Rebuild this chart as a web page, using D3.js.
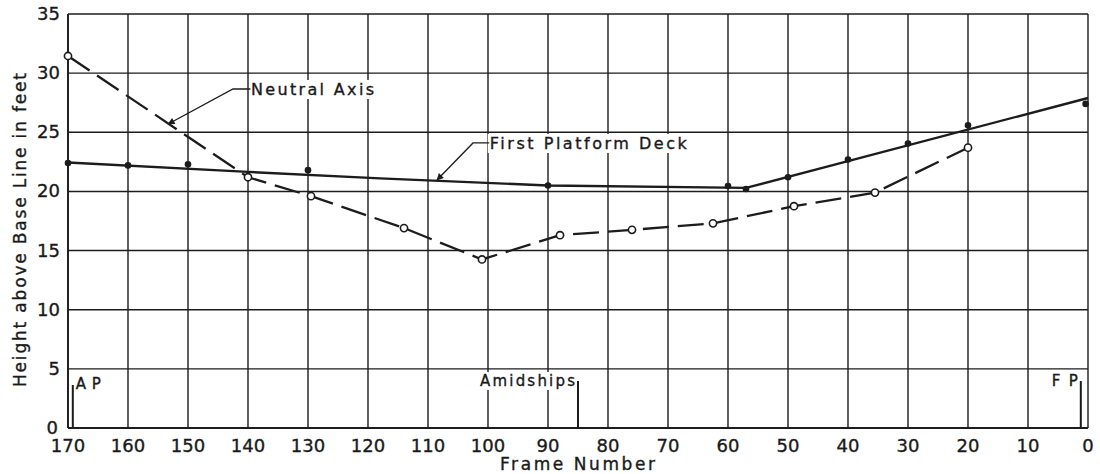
<!DOCTYPE html>
<html>
<head>
<meta charset="utf-8">
<script src="https://cdn.jsdelivr.net/npm/d3@7"></script>
<style>
  html, body { margin: 0; padding: 0; background: #fff; }
  svg text { font-family: "DejaVu Sans", sans-serif; fill: #1a1a1a; stroke: #1a1a1a; stroke-width: 0.35px; }
</style>
</head>
<body>
<div id="chart"></div>
<script>
// frame numbers run from aft (170) to forward (0)
const frameTicks = [170, 160, 150, 140, 130, 120, 110, 100, 90, 80, 70, 60, 50, 40, 30, 20, 10, 0];
const heightTicks = [0, 5, 10, 15, 20, 25, 30, 35];

// first platform deck: faired line + plotted points
const deckLineFrames = [170, 140, 118, 90, 57, 0];
const deckLineHeights = [22.45, 21.65, 21.1, 20.5, 20.3, 27.9];
const deckPointFrames = [170, 160, 150, 130, 90, 60, 57, 50, 40, 30, 20, 0.4];
const deckPointHeights = [22.4, 22.2, 22.3, 21.8, 20.5, 20.45, 20.2, 21.2, 22.7, 24.05, 25.6, 27.4];

// neutral axis points
const neutralFrames = [170, 140, 129.5, 114, 101, 88, 76, 62.5, 49, 35.5, 20];
const neutralHeights = [31.45, 21.2, 19.6, 16.9, 14.25, 16.3, 16.75, 17.3, 18.75, 19.9, 23.7];

// stations along the base line
const stationNames = ['AP', 'Amidships', 'FP'];
const stationFrames = [169.2, 85, 1.2];

const width = 1100, height = 474;
const svg = d3.select('#chart').append('svg')
  .attr('width', width)
  .attr('height', height);

const x = d3.scaleLinear().domain([170, 0]).range([68, 1088]);
const y = d3.scaleLinear().domain([0, 35]).range([428, 14]);
const ink = '#1c1c1c';

// grid
const grid = svg.append('g').attr('stroke', ink).attr('stroke-width', 1.4);
grid.selectAll('line.v').data(frameTicks).join('line')
  .attr('class', 'v')
  .attr('x1', d => x(d)).attr('x2', d => x(d))
  .attr('y1', y(0)).attr('y2', y(35));
grid.selectAll('line.h').data(heightTicks).join('line')
  .attr('class', 'h')
  .attr('x1', x(170)).attr('x2', x(0))
  .attr('y1', d => y(d)).attr('y2', d => y(d));
// heavier base line and left edge
svg.append('line').attr('x1', x(170)).attr('x2', x(0)).attr('y1', y(0)).attr('y2', y(0))
  .attr('stroke', ink).attr('stroke-width', 2);
svg.append('line').attr('x1', x(170)).attr('x2', x(170)).attr('y1', y(0)).attr('y2', y(35))
  .attr('stroke', ink).attr('stroke-width', 1.8);

// tick labels
svg.append('g').selectAll('text').data(frameTicks).join('text')
  .attr('x', d => x(d)).attr('y', 452)
  .attr('text-anchor', 'middle')
  .style('font-size', '18px')
  .text(d => d);
svg.append('g').selectAll('text').data(heightTicks).join('text')
  .attr('x', d => d === 0 ? 58 : 60).attr('y', d => y(d) + 6)
  .attr('text-anchor', 'end')
  .style('font-size', '18px')
  .text(d => d);

// axis titles
svg.append('text')
  .attr('x', 500).attr('y', 470)
  .attr('textLength', 155).attr('lengthAdjust', 'spacing')
  .style('font-size', '17px')
  .text('Frame Number');
svg.append('text')
  .attr('transform', 'translate(26,387) rotate(-90)')
  .attr('textLength', 314).attr('lengthAdjust', 'spacing')
  .style('font-size', '17px')
  .text('Height above Base Line in feet');

// labels with a white box that breaks the grid behind them
function boxedLabel(tx, ty, str, len, size, anchor) {
  const g = svg.append('g');
  const rect = g.append('rect').attr('fill', '#fff');
  const t = g.append('text')
    .attr('x', tx).attr('y', ty)
    .attr('text-anchor', anchor || 'start')
    .attr('textLength', len).attr('lengthAdjust', 'spacing')
    .style('font-size', size + 'px')
    .text(str);
  const b = t.node().getBBox();
  rect.attr('x', b.x - 2).attr('y', b.y).attr('width', b.width + 4).attr('height', b.height);
  return g;
}

// stations
stationNames.forEach((name, i) => {
  const sx = x(stationFrames[i]);
  const top = name === 'AP' ? 385 : 381;
  if (name === 'AP') boxedLabel(sx + 3, 389, name, 25, 15, 'start');
  else boxedLabel(sx - 3, 386, name, name === 'FP' ? 26 : 95, 15, 'end');
  svg.append('line')
    .attr('x1', sx).attr('x2', sx).attr('y1', top).attr('y2', y(0))
    .attr('stroke', ink).attr('stroke-width', 2);
});

// annotations with leader arrows
const defs = svg.append('defs');
defs.append('marker')
  .attr('id', 'arrow')
  .attr('viewBox', '0 0 10 10')
  .attr('refX', 9).attr('refY', 5)
  .attr('markerWidth', 11).attr('markerHeight', 7)
  .attr('markerUnits', 'userSpaceOnUse')
  .attr('orient', 'auto')
  .append('path').attr('d', 'M0,0 L10,5 L0,10 z').attr('fill', ink);

boxedLabel(x(139.5), y(28.66) + 6, 'Neutral Axis', 123, 16);
boxedLabel(x(99.7), y(24.1) + 6, 'First Platform Deck', 197, 16);

const leaders = [
  [[139.6, 28.66], [142.5, 28.66], [153.3, 25.7]],
  [[99.8, 24.1], [102.5, 24.1], [108.5, 20.96]]
];
const leaderLine = d3.line().x(d => x(d[0])).y(d => y(d[1]));
svg.append('g').selectAll('path').data(leaders).join('path')
  .attr('d', leaderLine)
  .attr('fill', 'none')
  .attr('stroke', ink)
  .attr('stroke-width', 1.3)
  .attr('marker-end', 'url(#arrow)');

// data lines
const line = d3.line().x(d => x(d[0])).y(d => y(d[1]));
svg.append('path')
  .datum(deckLineFrames.map((f, i) => [f, deckLineHeights[i]]))
  .attr('d', line)
  .attr('fill', 'none')
  .attr('stroke', ink)
  .attr('stroke-width', 2.4);

svg.append('path')
  .datum(neutralFrames.map((f, i) => [f, neutralHeights[i]]))
  .attr('d', line)
  .attr('fill', 'none')
  .attr('stroke', ink)
  .attr('stroke-width', 2.3)
  .attr('stroke-dasharray', '26,9');

// points
svg.append('g').selectAll('circle')
  .data(deckPointFrames.map((f, i) => [f, deckPointHeights[i]]))
  .join('circle')
  .attr('cx', d => x(d[0])).attr('cy', d => y(d[1]))
  .attr('r', 3.3)
  .attr('fill', ink);

svg.append('g').selectAll('circle')
  .data(neutralFrames.map((f, i) => [f, neutralHeights[i]]))
  .join('circle')
  .attr('cx', d => x(d[0])).attr('cy', d => y(d[1]))
  .attr('r', 3.6)
  .attr('fill', '#fff')
  .attr('stroke', ink)
  .attr('stroke-width', 1.6);
</script>
</body>
</html>
